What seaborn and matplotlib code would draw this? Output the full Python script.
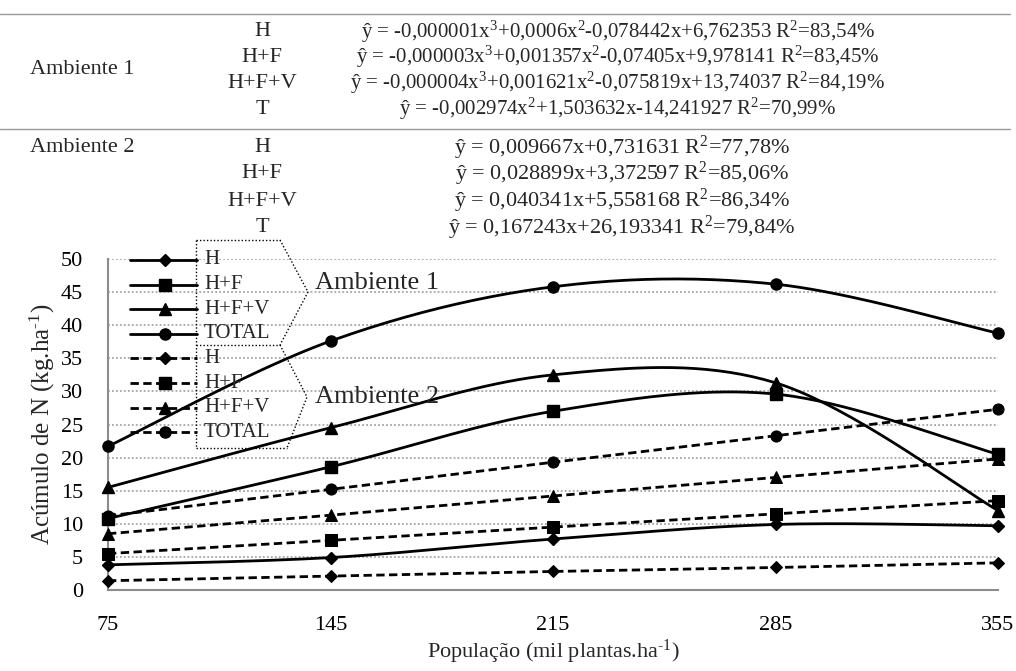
import numpy as np
import pandas as pd
import seaborn as sns
import matplotlib.pyplot as plt
from matplotlib.lines import Line2D

# dados
populacao = [75, 145, 215, 285, 355]
amb1_h = [3.8, 4.9, 7.7, 9.9, 9.7]
amb1_hf = [10.8, 18.6, 27.0, 29.6, 20.5]
amb1_hfv = [15.5, 24.5, 32.5, 31.3, 12.0]
amb1_total = [21.7, 37.6, 45.8, 46.2, 38.8]
amb2_h = [1.4, 2.1, 2.8, 3.4, 4.1]
amb2_hf = [5.5, 7.5, 9.5, 11.5, 13.5]
amb2_hfv = [8.5, 11.3, 14.2, 17.0, 19.8]
amb2_total = [11.2, 15.2, 19.3, 23.3, 27.3]

componentes = ["H", "H+F", "H+F+V", "TOTAL"]
marcadores = ["D", "s", "^", "o"]
tam_marc = [6, 8, 8, 8]

eq_amb1 = ["ŷ = -0,000001x$^3$+0,0006x$^2$-0,078442x+6,762353 R$^2$=83,54%",
           "ŷ = -0,000003x$^3$+0,001357x$^2$-0,07405x+9,978141 R$^2$=83,45%",
           "ŷ = -0,000004x$^3$+0,001621x$^2$-0,075819x+13,74037 R$^2$=84,19%",
           "ŷ = -0,002974x$^2$+1,503632x-14,241927 R$^2$=70,99%"]
eq_amb2 = ["ŷ = 0,009667x+0,731631 R$^2$=77,78%",
           "ŷ = 0,028899x+3,372597 R$^2$=85,06%",
           "ŷ = 0,040341x+5,558168 R$^2$=86,34%",
           "ŷ = 0,167243x+26,193341 R$^2$=79,84%"]
rotulos_eq = ["H", "H+F", "H+F+V", "T"]

sns.set_theme(style="white")
plt.rcParams['font.family'] = ['Liberation Serif', 'DejaVu Serif']
plt.rcParams['mathtext.fontset'] = 'custom'
plt.rcParams['mathtext.rm'] = 'Liberation Serif'
plt.rcParams['mathtext.it'] = 'Liberation Serif:italic'
plt.rcParams['mathtext.default'] = 'regular'

W, H = 1016, 671
def fx(px):
    return px / W
def fy(py):
    return 1 - py / H


def suaviza(x, y, n=40):
    # curva suavizada tipo Excel (Bezier Catmull-Rom)
    x = np.asarray(x, float)
    y = np.asarray(y, float)
    P = np.column_stack([x, y])
    Pe = np.vstack([P[0], P, P[-1]])
    t = np.linspace(0, 1, n)[:, None]
    out = []
    for i in range(len(P) - 1):
        p0, p3 = Pe[i + 1], Pe[i + 2]
        c1 = p0 + (Pe[i + 2] - Pe[i]) / 6
        c2 = p3 - (Pe[i + 3] - Pe[i + 1]) / 6
        seg = (1 - t) ** 3 * p0 + 3 * (1 - t) ** 2 * t * c1 + 3 * (1 - t) * t ** 2 * c2 + t ** 3 * p3
        out.append(seg if i == 0 else seg[1:])
    out = np.vstack(out)
    return out[:, 0], out[:, 1]


fig = plt.figure(figsize=(W / 100, H / 100), dpi=100)
ax = fig.add_axes([fx(108), fy(590), 890 / W, 331 / H])

cinza = "#8c8c8c"
tracejado = (0, (3, 1.6))

series1 = [amb1_h, amb1_hf, amb1_hfv, amb1_total]
series2 = [amb2_h, amb2_hf, amb2_hfv, amb2_total]

for vals, m, ms in zip(series1, marcadores, tam_marc):
    xs, ys = suaviza(populacao, vals)
    sns.lineplot(x=xs, y=ys, sort=False, estimator=None, color="black", lw=2, ax=ax, zorder=3)
    ax.plot(populacao, vals, ls="none", marker=m, ms=ms, color="black", clip_on=False, zorder=4)

for vals, m, ms in zip(series2, marcadores, tam_marc):
    df = pd.DataFrame({"x": populacao, "y": vals})
    sns.lineplot(data=df, x="x", y="y", color="black", lw=2, ax=ax, zorder=3,
                 marker=m, markersize=ms, markeredgecolor="black", dashes=False,
                 linestyle=tracejado, clip_on=False)

ax.set_xlim(75, 355)
ax.set_ylim(0, 50)
ax.set_xticks(populacao)
ax.set_yticks(range(0, 51, 5))
ax.yaxis.grid(True, color="#a6a6a6", ls=(0, (1, 1.2)), lw=1.3)
ax.set_axisbelow(True)
for s in ["top", "right"]:
    ax.spines[s].set_visible(False)
for s in ["left", "bottom"]:
    ax.spines[s].set_color(cinza)
    ax.spines[s].set_linewidth(1.5)
ax.tick_params(axis="both", direction="out", color=cinza, width=1.5, length=5,
               labelsize=16, labelcolor="black")
ax.tick_params(axis="x", pad=14)
ax.tick_params(axis="y", pad=13)
ax.set_xlabel("População (mil plantas.ha$^{\\text{-1}}$)", fontsize=16, va="center")
ax.set_ylabel("Acúmulo de N (kg.ha$^{\\text{-1}}$)", fontsize=18, va="center")
ax.xaxis.set_label_coords(0.5, (590 - 652) / 331)
ax.yaxis.set_label_coords((42 - 108) / 890, 0.5)

# legenda manual
y0, dy = 260, 24.6
for i in range(8):
    yy = y0 + i * dy
    m = marcadores[i % 4]
    ms = tam_marc[i % 4]
    ls = "-" if i < 4 else tracejado
    fig.add_artist(Line2D([fx(130), fx(197)], [fy(yy), fy(yy)], color="black", lw=2, ls=ls))
    fig.add_artist(Line2D([fx(165)], [fy(yy)], color="black", marker=m, ms=ms, ls="none"))
    fig.text(fx(204), fy(yy), componentes[i % 4], fontsize=15, va="center", ha="left")

pont = dict(color="black", lw=1, ls=(0, (1, 1.5)))
caixa = [([196, 280], [240, 240]), ([196, 196], [240, 448]), ([196, 280], [345, 345]),
         ([196, 287], [448, 448]), ([280, 308, 280], [240, 292, 345]),
         ([280, 307, 287], [345, 397, 448])]
for xs, ys in caixa:
    fig.add_artist(Line2D([fx(v) for v in xs], [fy(v) for v in ys], **pont))
fig.text(fx(315), fy(283), "Ambiente 1", fontsize=19, va="center", ha="left")
fig.text(fx(315), fy(397), "Ambiente 2", fontsize=19, va="center", ha="left")

# tabela de equacoes
for yy in [14, 129]:
    fig.add_artist(Line2D([fx(0), fx(1010)], [fy(yy), fy(yy)], color="#9a9a9a", lw=1))
lin1 = [32, 57, 83, 109]
lin2 = [148, 174, 201, 228]
fig.text(fx(82), fy(70), "Ambiente 1", fontsize=16, ha="center", va="center")
fig.text(fx(82), fy(148), "Ambiente 2", fontsize=16, ha="center", va="center")
for yy, r, e in zip(lin1, rotulos_eq, eq_amb1):
    fig.text(fx(262), fy(yy), r, fontsize=16, ha="center", va="center")
    fig.text(fx(618), fy(yy), e, fontsize=15, ha="center", va="center")
for yy, r, e in zip(lin2, rotulos_eq, eq_amb2):
    fig.text(fx(262), fy(yy), r, fontsize=16, ha="center", va="center")
    fig.text(fx(622), fy(yy), e, fontsize=16, ha="center", va="center")

fig.savefig("out.png", dpi=100)
